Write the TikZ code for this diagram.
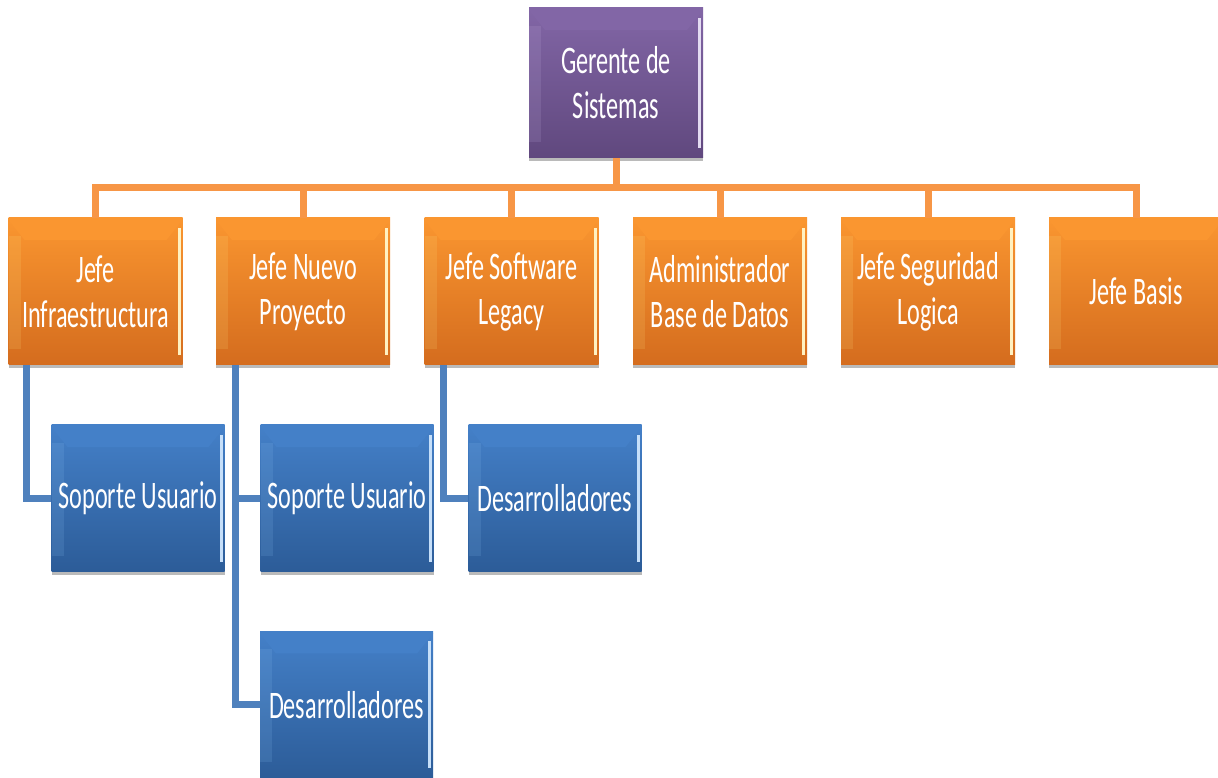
\documentclass[tikz,border=0pt]{standalone}
\usepackage{fontspec}
\setmainfont{Carlito}[FakeStretch=0.62]
\usetikzlibrary{shadows}
\definecolor{PuTop}{RGB}{130,102,166}
\definecolor{PuBot}{RGB}{96,72,126}
\definecolor{PuHL}{RGB}{200,182,228}
\definecolor{OrTop}{RGB}{250,150,48}
\definecolor{OrBot}{RGB}{212,108,30}
\definecolor{OrHL}{RGB}{255,228,130}
\definecolor{BlTop}{RGB}{68,128,200}
\definecolor{BlBot}{RGB}{44,92,152}
\definecolor{BlHL}{RGB}{140,192,242}
\definecolor{OrLine}{RGB}{247,150,70}
\definecolor{BlLine}{RGB}{79,129,189}
\tikzset{
  box/.style={minimum width=174pt, minimum height=147pt, inner sep=0pt,
    align=center, text=white, font=\fontsize{39}{45}\selectfont,
    drop shadow={shadow xshift=0pt, shadow yshift=-3pt, fill=black!45, opacity=.6}},
  bevel/.style n args={3}{top color=#1, bottom color=#2,
    path picture={
      \shade[top color=#1, middle color=#3, bottom color=#1]
        ([yshift=-2pt]path picture bounding box.north west) --
        ([yshift=-2pt]path picture bounding box.north east) --
        ([xshift=-16pt,yshift=-22pt]path picture bounding box.north east) --
        ([xshift=16pt,yshift=-22pt]path picture bounding box.north west) -- cycle;
      \fill[#3!50!white] ([xshift=-5pt,yshift=-10pt]path picture bounding box.north east)
        rectangle ([xshift=-2pt,yshift=10pt]path picture bounding box.south east);
      \fill[#3, opacity=.15] ([xshift=0pt,yshift=-18pt]path picture bounding box.north west)
        rectangle ([xshift=12pt,yshift=16pt]path picture bounding box.south west);
    }},
  pbox/.style={box, minimum height=150pt, bevel={PuTop}{PuBot}{PuHL}},
  obox/.style={box, bevel={OrTop}{OrBot}{OrHL}},
  bbox/.style={box, minimum width=173pt, bevel={BlTop}{BlBot}{BlHL}},
  oline/.style={draw=OrLine, line width=7pt},
  bline/.style={draw=BlLine, line width=7pt},
}
\begin{document}
\begin{tikzpicture}[x=1pt,y=1pt]
\useasboundingbox (0,0) rectangle (1218,778);
\fill[white] (0,0) rectangle (1218,778);
% nodes
\node[pbox] (top) at (616,695) {Gerente de\\Sistemas};
\node[obox] (j1) at (95.5,486.5) {Jefe\\Infraestructura};
\node[obox] (j2) at (303,486.5) {Jefe Nuevo\\Proyecto};
\node[obox] (j3) at (511.5,486.5) {Jefe Software\\Legacy};
\node[obox] (j4) at (720,486.5) {Administrador\\Base de Datos};
\node[obox] (j5) at (928,486.5) {Jefe Seguridad\\Logica};
\node[obox] (j6) at (1136,486.5) {Jefe Basis};
\node[bbox] (b1) at (138,279.5) {Soporte Usuario};
\node[bbox] (b2) at (347,279.5) {Soporte Usuario};
\node[bbox] (b3) at (346.5,73) {Desarrolladores};
\node[bbox] (b4) at (555,279.5) {Desarrolladores};
% orange connectors
\foreach \j in {j1,j2,j3,j4,j5,j6}{
  \draw[oline] (top.south) -- ++(0,-29) -| (\j.north);
}
% blue connectors
\draw[bline] (j1.south west) ++(18,0) |- (b1.west);
\draw[bline] (j2.south west) ++(20,0) |- (b2.west);
\draw[bline] (j2.south west) ++(20,0) |- (b3.west);
\draw[bline] (j3.south west) ++(19,0) |- (b4.west);
\end{tikzpicture}
\end{document}
